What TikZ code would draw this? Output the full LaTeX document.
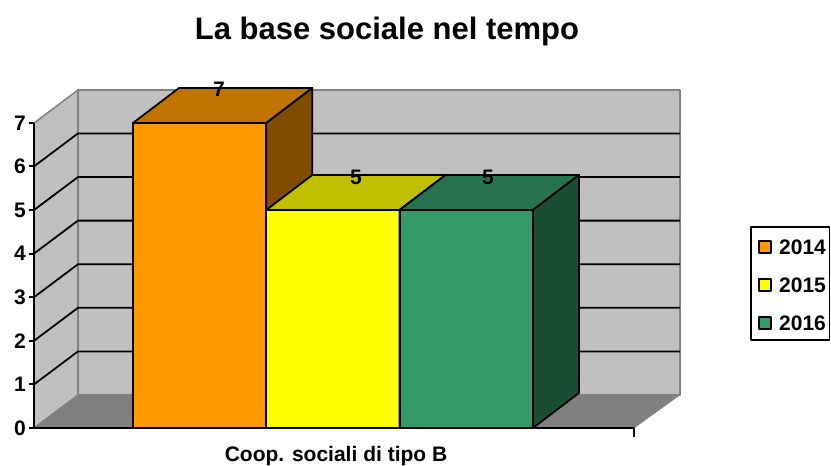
\documentclass[tikz,border=0pt]{standalone}
\usepackage{fontspec}
\setmainfont{Liberation Sans}
\definecolor{wallgray}{RGB}{192,192,192}
\definecolor{floorgray}{RGB}{128,128,128}
\definecolor{orfront}{RGB}{255,153,0}
\definecolor{ortop}{RGB}{192,115,0}
\definecolor{orside}{RGB}{128,77,0}
\definecolor{yefront}{RGB}{255,255,0}
\definecolor{yetop}{RGB}{192,192,0}
\definecolor{yeside}{RGB}{128,128,0}
\definecolor{grfront}{RGB}{51,153,102}
\definecolor{grtop}{RGB}{38,115,77}
\definecolor{grside}{RGB}{27,77,52}
% one 3d bar: left x, top y, front, top and side colour
\newcommand{\chartbar}[5]{%
  \filldraw[fill=#3] (#1,428) rectangle ({#1+133.3},#2);
  \filldraw[fill=#4] (#1,#2) -- ++(46,-35) -- ++(133.3,0) -- ({#1+133.3},#2) -- cycle;
  \filldraw[fill=#5] ({#1+133.3},428) -- ++(46,-35) -- ({#1+179.3},{#2-35}) -- ({#1+133.3},#2) -- cycle;
}
\begin{document}
\begin{tikzpicture}[x=1pt, y=-1pt, line join=round,
  lbl/.style={font=\fontsize{21}{22}\selectfont\bfseries, inner sep=0pt}]
\useasboundingbox (0,0) rectangle (831,466);
\node[font=\fontsize{31}{32}\selectfont\bfseries] (title) at (387,31) {La base sociale nel tempo};
% walls and floor
\filldraw[fill=wallgray, draw=floorgray, line width=1.5pt] (34,428) -- (78,395) -- (78,90) -- (34,123) -- cycle;
\filldraw[fill=wallgray, draw=floorgray, line width=1.5pt] (78,90) rectangle (680,395);
\filldraw[fill=floorgray, draw=floorgray] (34,428) -- (634,428) -- (680,395) -- (78,395) -- cycle;
\foreach \k in {1,...,6}{
  \draw[line width=1.8pt] (34,{428-43.6*\k}) -- (78,{395-43.6*\k}) -- (680,{395-43.6*\k});
}
% axes
\draw[line width=2pt] (34,123) -- (34,428) -- (634,428) -- (634,437);
\foreach \k in {0,...,7}{
  \draw[line width=2pt] (29,{428-43.6*\k}) -- (34,{428-43.6*\k});
  \node[lbl, anchor=east] (t\k) at (26,{428-43.6*\k}) {\k};
}
% bars
\begin{scope}[line width=1.8pt]
\chartbar{133}{123}{orfront}{ortop}{orside}
\chartbar{266.3}{210}{yefront}{yetop}{yeside}
\chartbar{399.6}{210}{grfront}{grtop}{grside}
\end{scope}
\node[lbl] (v14) at (219,89) {7};
\node[lbl] (v15) at (356,177) {5};
\node[lbl] (v16) at (488,177) {5};
\node[lbl] (xlab) at (336,456) {Coop. sociali di tipo B};
% legend
\draw[line width=1.5pt] (751,227) rectangle (829.5,340);
\foreach \y/\c/\t in {247/orfront/2014, 285/yefront/2015, 323/grfront/2016}{
  \filldraw[fill=\c, line width=1.2pt] (759,{\y-6}) rectangle (771,{\y+6});
  \node[lbl, anchor=west] (leg\t) at (779,\y) {\t};
}
\end{tikzpicture}
\end{document}
